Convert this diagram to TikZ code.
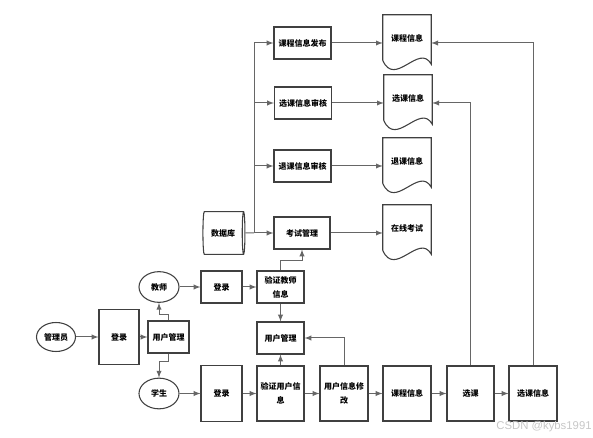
\documentclass[tikz,border=0pt]{standalone}
\usepackage{fontspec}
\setmainfont{Noto Sans CJK SC}
\newfontfamily\wmfont{Liberation Sans}
\usetikzlibrary{shapes.geometric}

\tikzset{
  lbl/.style={font=\fontsize{6}{10.5}\selectfont\bfseries},
  box/.style={lbl,draw=black!75,line width=0.8pt,rectangle,align=center,inner sep=1pt},
  smallbox/.style={box,minimum width=30.75pt,minimum height=24pt},
  widebox/.style={box,minimum width=42.75pt,minimum height=24pt},
  tallbox/.style={box,minimum width=35.25pt,minimum height=41.25pt},
  actor/.style={lbl,draw=black!75,line width=0.8pt,ellipse,inner sep=0pt,minimum width=30pt,minimum height=23pt},
  doc/.style={lbl,rectangle,minimum width=36pt,minimum height=42pt,text depth=7pt},
  docline/.style={draw=black!75,line width=0.8pt},
  dbase/.style={lbl,draw=black!75,line width=0.8pt,cylinder,aspect=0.35,minimum width=32pt,minimum height=31.5pt,inner sep=0pt},
  link/.style={draw=black!60,line width=0.75pt},
  arr/.style={link,-latex},
  wm/.style={font=\wmfont\fontsize{8.5}{9}\selectfont,text=black!22}
}

\begin{document}
\begin{tikzpicture}[x=0.75pt,y=-0.75pt]
  % helper grid: comment for final drawing
  % \draw[help lines,step=10] (0,0) grid (593,438);
  \useasboundingbox (0,0) rectangle (593,438);

  % % left: users and login
  \node[actor,minimum width=29.25pt,minimum height=21.75pt] (gly) at (56,337) {管理员};
  \node[tallbox,minimum width=30pt] (dl1) at (119,337) {登录};
  \node[smallbox] (yhgl1) at (168.5,337) {用户管理};
  \node[actor] (js) at (159,287) {教师};
  \node[actor] (xs) at (159,393.5) {学生};

  % % teacher row
  \node[smallbox] (dl2) at (221.5,287) {登录};
  \node[box,minimum width=35.25pt,minimum height=24pt] (yzjs) at (280.5,287) {验证教师\\信息};
  \node[box,minimum width=35.25pt,minimum height=24pt] (yhgl2) at (280.5,338) {用户管理};

  % % student row
  \node[tallbox,minimum width=30.75pt,minimum height=42pt] (dl3) at (221.5,393.5) {登录};
  \node[tallbox] (yzyh) at (280.5,393.5) {验证用户信\\息};
  \node[tallbox,minimum width=36pt] (yhxg) at (344,393.5) {用户信息修\\改};
  \node[tallbox,minimum width=36pt] (kcxx2) at (407,393.5) {课程信息};
  \node[tallbox] (xk) at (470.5,393.5) {选课};
  \node[tallbox,minimum width=36pt] (xkxx2) at (533,393.5) {选课信息};

  % % database and management boxes
  \node[dbase] (db) at (223,233) {数据库};
  \coordinate (trunk) at (254,233);
  \node[widebox] (kcfb) at (302.5,43) {课程信息发布};
  \node[widebox] (xksh) at (303,103) {选课信息审核};
  \node[widebox] (tksh) at (302.5,166) {退课信息审核};
  \node[widebox,minimum width=42pt] (kszl) at (302,233) {考试管理};

  % % documents
  \node[doc] (kcxx) at (407,43) {课程信息};
  \node[doc] (xkxx) at (408,103) {选课信息};
  \node[doc] (tkxx) at (407,166) {退课信息};
  \node[doc] (zxks) at (407,233) {在线考试};
  \foreach \d in {kcxx,xkxx,tkxx,zxks}
    \draw[docline] (\d.north west) -- (\d.north east) -- ([yshift=5.25pt]\d.south east)
      .. controls +(-9pt,16.5pt) and +(9pt,-21pt) .. ([yshift=8.25pt]\d.south west) -- cycle;

  % % connectors
  \draw[arr] (gly) -- (dl1);
  \draw[arr] (dl1) -- (yhgl1);
  \draw[arr] (yhgl1.north) -- ++(0,-6) -| (js.south);
  \draw[arr] (yhgl1.south) -- ++(0,8) -| (xs.north);
  \draw[arr] (js) -- (dl2);
  \draw[arr] (dl2) -- (yzjs);
  \draw[arr] (yzjs.north) -- ++(0,-10) -| (kszl.south);
  \draw[arr] (yzjs) -- (yhgl2);
  \draw[arr] (xs) -- (dl3);
  \draw[arr] (dl3) -- (yzyh);
  \draw[arr] (yzyh) -- (yhxg);
  \draw[arr] (yhxg) -- (kcxx2);
  \draw[arr] (kcxx2) -- (xk);
  \draw[arr] (xk) -- (xkxx2);
  \draw[arr] (yzyh) -- (yhgl2);
  \draw[arr] (yhxg.north) |- (yhgl2.east);
  \draw[arr] (xk.north) |- (xkxx.east);
  \draw[arr] (xkxx2.north) |- (kcxx.east);

  \draw[link] (db.east) -- (trunk);
  \draw[arr] (trunk) |- (kcfb);
  \draw[arr] (trunk) |- (xksh);
  \draw[arr] (trunk) |- (tksh);
  \draw[arr] (trunk) -- (kszl);
  \draw[arr] (kcfb) -- (kcxx);
  \draw[arr] (xksh) -- (xkxx);
  \draw[arr] (tksh) -- (tkxx);
  \draw[arr] (kszl) -- (zxks);

  \node[wm] (mark) at (544,427) {CSDN @kybs1991};
\end{tikzpicture}
\end{document}
